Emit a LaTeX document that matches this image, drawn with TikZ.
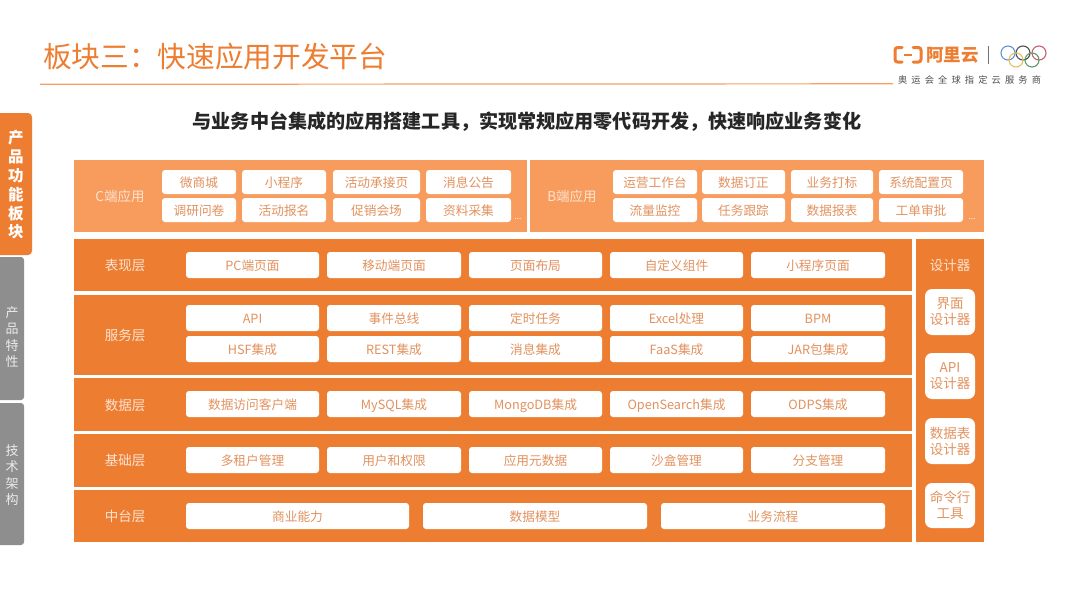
\documentclass[tikz,border=0pt]{standalone}
\usepackage{fontspec}
\setmainfont{Noto Sans CJK SC}
\definecolor{mainorange}{HTML}{ED7D31}
\definecolor{lightorange}{HTML}{F89C5E}
\definecolor{tabgray}{HTML}{8E8E8E}
\definecolor{boxtext}{HTML}{E2925F}
\definecolor{paletext}{HTML}{FDE3D0}
\definecolor{ruleorange}{HTML}{F4A066}
\definecolor{ringblue}{HTML}{5F96D0}
\definecolor{ringblack}{HTML}{505050}
\definecolor{ringred}{HTML}{C8606E}
\definecolor{ringyellow}{HTML}{E3BE66}
\definecolor{ringgreen}{HTML}{5F9A68}
\newcommand{\fs}[1]{\fontsize{#1}{#1}\selectfont}
\newcommand{\fsl}[2]{\fontsize{#1}{#2}\selectfont}
% \bx{style}{name}{x1}{y1}{x2}{y2}{text}
\newcommand{\bx}[7]{\node[#1,anchor=north west,minimum width={(#5-#3)*1pt},minimum height={(#6-#4)*1pt}] (#2) at (#3,#4) {#7};}
\tikzset{
  base/.style={inner sep=0pt,outer sep=0pt,align=center},
  panel/.style={base,fill=mainorange},
  lightpanel/.style={base,fill=lightorange},
  chip/.style={base,fill=white,rounded corners=3pt,text=boxtext,font=\fs{12.7},text height=11.6pt,text depth=0.4pt},
  tool/.style={base,fill=white,rounded corners=7pt,text=boxtext,font=\fsl{13.5}{16}},
  rowlabel/.style={base,text=paletext,font=\fs{13.5},text height=12pt,text depth=0.5pt},
  ring/.style={line width=1.1pt,draw},
}
\begin{document}
\begin{tikzpicture}[x=1pt,y=-1pt]
\useasboundingbox[fill=white] (0,0) rectangle (1080,608);
% header
\node[base,anchor=west,text=mainorange,font=\fs{28.7}] (title) at (43,57) {板块三：快速应用开发平台};
\coordinate (ruleL) at (40,84.3);
\coordinate (ruleR) at (893,83.8);
\draw[ruleorange,line width=1.2pt] (ruleL) -- (ruleR);
\node[base,font=\bfseries\fs{19.1},text=black!85] (subtitle) at (527,122) {与业务中台集成的应用搭建工具，实现常规应用零代码开发，快速响应业务变化};
% logo
\draw[mainorange,line width=3pt,line cap=round,rounded corners=2.5pt] (902,47.5) -- (895,47.5) -- (895,62) -- (902,62);
\draw[mainorange,line width=3pt,line cap=round,rounded corners=2.5pt] (913,47.5) -- (921,47.5) -- (921,62) -- (913,62);
\draw[mainorange,line width=1.6pt] (904,55) -- (912,55);
\node[base,anchor=west,text=mainorange,font=\bfseries\fs{17.5}] (brand) at (926,55) {阿里云};
\draw[black!55,line width=0.6pt] (988,46) -- (988,64);
\draw[ring,color=ringblue] (1008,53) circle (7);
\draw[ring,color=ringblack] (1023,53) circle (7);
\draw[ring,color=ringred] (1039,53) circle (7);
\draw[ring,color=ringyellow] (1016,60) circle (7);
\draw[ring,color=ringgreen] (1032,60) circle (7);
\node[base,anchor=west,text=black!70,font=\fs{9.2},text width=143pt,align=justify] (tagline) at (898,80) {奥\hfill 运\hfill 会\hfill 全\hfill 球\hfill 指\hfill 定\hfill 云\hfill 服\hfill 务\hfill 商};
% side tabs
\fill[mainorange,rounded corners=4pt] (-8,113) rectangle (32,255);
\node[base,text=white,font=\bfseries\fsl{15.5}{18.8}] (tab1) at (16,185) {产\\品\\功\\能\\板\\块};
\fill[tabgray,rounded corners=3pt] (-8,257) rectangle (24,400);
\node[base,text=white!92!black,font=\fsl{13}{16.5}] (tab2) at (12,337) {产\\品\\特\\性};
\fill[tabgray,rounded corners=3pt] (-8,403) rectangle (24,545);
\node[base,text=white!92!black,font=\fsl{13}{16.5}] (tab3) at (12,475) {技\\术\\架\\构};
% app panels
\bx{lightpanel}{cpanel}{74}{160}{527}{232}{}
\bx{lightpanel}{bpanel}{530}{160}{984}{232}{}
\node[rowlabel] (clabel) at (120,196) {C端应用};
\node[rowlabel] (blabel) at (572,196) {B端应用};
\bx{chip}{c1}{162}{170}{236}{194}{微商城}
\bx{chip}{c2}{242}{170}{326}{194}{小程序}
\bx{chip}{c3}{333}{170}{420}{194}{活动承接页}
\bx{chip}{c4}{426}{170}{511}{194}{消息公告}
\bx{chip}{c5}{162}{198}{236}{222}{调研问卷}
\bx{chip}{c6}{242}{198}{326}{222}{活动报名}
\bx{chip}{c7}{333}{198}{420}{222}{促销会场}
\bx{chip}{c8}{426}{198}{511}{222}{资料采集}
\bx{chip}{b1}{613}{170}{697}{194}{运营工作台}
\bx{chip}{b2}{702}{170}{785}{194}{数据订正}
\bx{chip}{b3}{791}{170}{873}{194}{业务打标}
\bx{chip}{b4}{879}{170}{963}{194}{系统配置页}
\bx{chip}{b5}{613}{198}{697}{222}{流量监控}
\bx{chip}{b6}{702}{198}{785}{222}{任务跟踪}
\bx{chip}{b7}{791}{198}{873}{222}{数据报表}
\bx{chip}{b8}{879}{198}{963}{222}{工单审批}
\node[base,text=white,font=\fs{8}] (cdots) at (518,219) {...};
\node[base,text=white,font=\fs{8}] (bdots) at (972,219) {...};
% layers
\bx{panel}{l1}{74}{239}{912}{291}{}
\bx{panel}{l2}{74}{295}{912}{375}{}
\bx{panel}{l3}{74}{378}{912}{431}{}
\bx{panel}{l4}{74}{434}{912}{487}{}
\bx{panel}{l5}{74}{490}{912}{542}{}
\bx{panel}{l6}{916}{239}{984}{542}{}
\node[rowlabel] (t1) at (125,265) {表现层};
\node[rowlabel] (t2) at (125,335) {服务层};
\node[rowlabel] (t3) at (125,405) {数据层};
\node[rowlabel] (t4) at (125,460) {基础层};
\node[rowlabel] (t5) at (125,516) {中台层};
\bx{chip}{p1}{186}{252}{319}{278}{PC端页面}
\bx{chip}{p2}{327}{252}{461}{278}{移动端页面}
\bx{chip}{p3}{469}{252}{602}{278}{页面布局}
\bx{chip}{p4}{610}{252}{743}{278}{自定义组件}
\bx{chip}{p5}{751}{252}{885}{278}{小程序页面}
\bx{chip}{s1}{186}{305}{319}{331}{API}
\bx{chip}{s2}{327}{305}{461}{331}{事件总线}
\bx{chip}{s3}{469}{305}{602}{331}{定时任务}
\bx{chip}{s4}{610}{305}{743}{331}{Excel处理}
\bx{chip}{s5}{751}{305}{885}{331}{BPM}
\bx{chip}{s6}{186}{336}{319}{362}{HSF集成}
\bx{chip}{s7}{327}{336}{461}{362}{REST集成}
\bx{chip}{s8}{469}{336}{602}{362}{消息集成}
\bx{chip}{s9}{610}{336}{743}{362}{FaaS集成}
\bx{chip}{s10}{751}{336}{885}{362}{JAR包集成}
\bx{chip}{d1}{186}{391}{319}{417}{数据访问客户端}
\bx{chip}{d2}{327}{391}{461}{417}{MySQL集成}
\bx{chip}{d3}{469}{391}{602}{417}{MongoDB集成}
\bx{chip}{d4}{610}{391}{743}{417}{OpenSearch集成}
\bx{chip}{d5}{751}{391}{885}{417}{ODPS集成}
\bx{chip}{f1}{186}{447}{319}{473}{多租户管理}
\bx{chip}{f2}{327}{447}{461}{473}{用户和权限}
\bx{chip}{f3}{469}{447}{602}{473}{应用元数据}
\bx{chip}{f4}{610}{447}{743}{473}{沙盒管理}
\bx{chip}{f5}{751}{447}{885}{473}{分支管理}
\bx{chip}{m1}{186}{503}{409}{529}{商业能力}
\bx{chip}{m2}{423}{503}{647}{529}{数据模型}
\bx{chip}{m3}{661}{503}{885}{529}{业务流程}
% designer column
\node[rowlabel] (dtitle) at (950,265) {设计器};
\bx{tool}{e1}{925}{289}{975}{335}{界面\\设计器}
\bx{tool}{e2}{925}{353}{975}{399}{API\\设计器}
\bx{tool}{e3}{925}{418}{975}{464}{数据表\\设计器}
\bx{tool}{e4}{925}{483}{975}{528}{命令行\\工具}
\end{tikzpicture}
\end{document}
